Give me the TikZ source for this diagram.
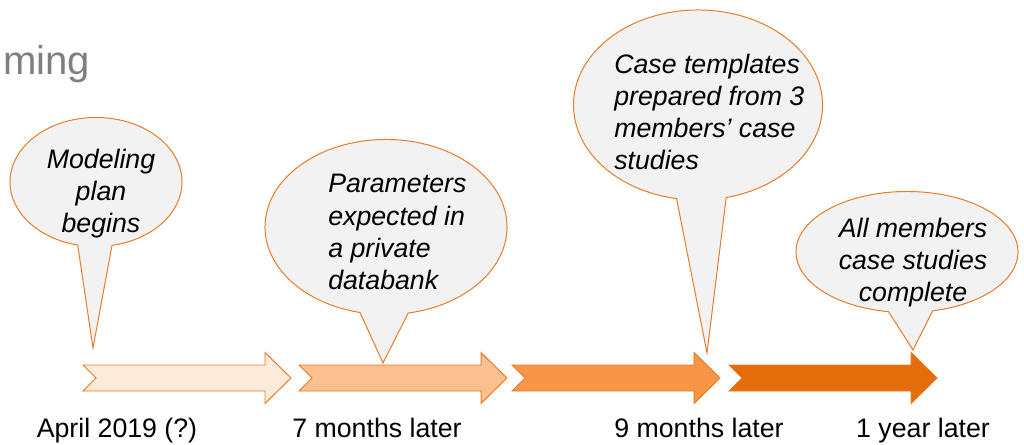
\documentclass[tikz,border=0pt]{standalone}
\usepackage{fontspec}
\setmainfont{Liberation Sans}
\usetikzlibrary{shapes.callouts,positioning}
\definecolor{shell}{RGB}{253,234,218}
\definecolor{apricot}{RGB}{250,192,144}
\definecolor{tangerine}{RGB}{247,150,70}
\definecolor{pumpkin}{RGB}{228,108,10}
\definecolor{rim}{RGB}{234,122,36}
\definecolor{mist}{RGB}{242,242,242}
\definecolor{slate}{RGB}{127,127,127}
\tikzset{
  bubble/.style={ellipse callout,draw=rim,fill=mist,line width=0.7pt,inner sep=0pt,
    callout pointer arc=23},
  say/.style={inner sep=0pt,font=\fontsize{19}{22.8}\selectfont\itshape,align=center},
  when/.style={font=\fontsize{19}{22.8}\selectfont,anchor=base,inner sep=0pt},
  % notched timeline arrow
  pics/stage/.style={code={
    \filldraw[fill=#1,draw=rim,line width=0.7pt,line join=miter]
      (0,-13) -- (182,-13) -- (182,-25.5) -- (208,0) -- (182,25.5) -- (182,13) -- (0,13) -- (13,0) -- cycle;
  }},
  pics/stage/.default=shell,
}
\begin{document}
\begin{tikzpicture}[x=0.025cm,y=-0.025cm]
  \useasboundingbox (0,0) rectangle (1024,445);
  \node[anchor=base west,inner sep=0pt,text=slate,font=\fontsize{28.5}{34}\selectfont] (title) at (3,75) {ming};

  % timeline
  \pic at (83,378) {stage=shell};
  \pic at (299,378) {stage=apricot};
  \pic at (512,378) {stage=tangerine};
  \pic at (729,378) {stage=pumpkin};

  \coordinate (tip1) at (93,348);
  \coordinate (tip2) at (383,363);
  \coordinate (tip3) at (707,353);
  \coordinate (tip4) at (913,350);

  % callouts
  \node[bubble,minimum width=4.3cm,minimum height=3.225cm,callout absolute pointer=(tip1)] (b1) at (96,182) {};
  \node[bubble,minimum width=6.05cm,minimum height=4.375cm,callout absolute pointer=(tip2)] (b2) at (386,227) {};
  \node[bubble,minimum width=6.225cm,minimum height=4.75cm,callout absolute pointer=(tip3)] (b3) at (698,105) {};
  \node[bubble,minimum width=5.55cm,minimum height=3.025cm,callout absolute pointer=(tip4)] (b4) at (907,252) {};

  \node[say] (s1) at (101,194) {Modeling\\plan\\begins};
  \node[say,align=left,anchor=west] (s2) at (328,232) {Parameters\\expected in\\a private\\databank};
  \node[say,align=left,anchor=west] (s3) at (614,112) {Case templates\\prepared from 3\\members’ case\\studies};
  \node[say] (s4) at (913,263) {All members\\case studies\\complete};

  % dates
  \node[when] (d1) at (117,437) {April 2019 (?)};
  \node[when] (d2) at (377,437) {7 months later};
  \node[when] (d3) at (699,437) {9 months later};
  \node[when] (d4) at (923,437) {1 year later};
\end{tikzpicture}
\end{document}
